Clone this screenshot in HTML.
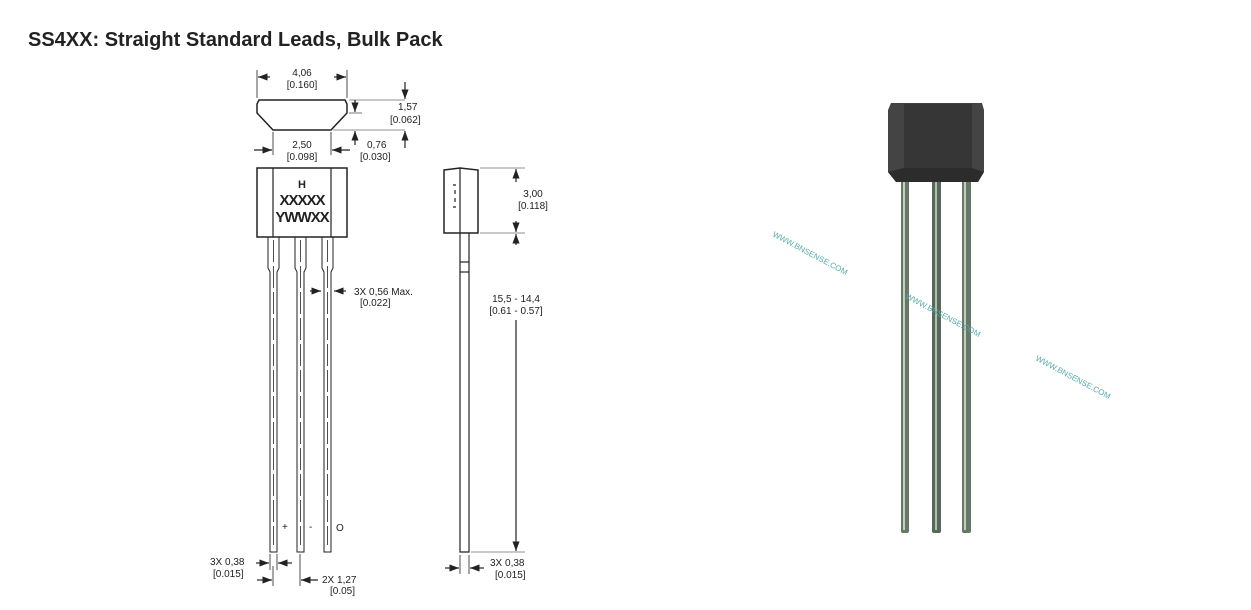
<!DOCTYPE html>
<html><head><meta charset="utf-8"><style>
body{margin:0;background:#fff;width:1251px;height:610px;overflow:hidden;position:relative;font-family:"Liberation Sans",sans-serif}
.t{position:absolute;left:28px;top:29px;font-size:20px;font-weight:bold;color:#222;letter-spacing:0px}
svg{position:absolute;left:0;top:0}
svg text{font-family:"Liberation Sans",sans-serif;font-size:10px;fill:#222}
</style></head><body>
<div class="t">SS4XX: Straight Standard Leads, Bulk Pack</div>
<svg width="1251" height="610" viewBox="0 0 1251 610">
<defs><marker id="a" markerWidth="8" markerHeight="6" refX="8" refY="3" orient="auto"><path d="M0,0 L8,3 L0,6z" fill="#222"/></marker></defs>
<g stroke="#222" fill="none" stroke-width="1.2">
<path d="M259,100 L345,100 L347,104 L347,113 L331,130 L273,130 L257,113 L257,104z" fill="#fff" stroke-width="1.5"/>
<line x1="257" y1="70" x2="257" y2="98" stroke-width="0.8"/><line x1="347" y1="70" x2="347" y2="98" stroke-width="0.8"/>
<line x1="270" y1="77" x2="258" y2="77" marker-end="url(#a)"/><line x1="334" y1="77" x2="346" y2="77" marker-end="url(#a)"/>
<line x1="273" y1="132" x2="273" y2="155" stroke-width="0.8"/><line x1="331" y1="132" x2="331" y2="155" stroke-width="0.8"/>
<line x1="254" y1="150" x2="272" y2="150" marker-end="url(#a)"/><line x1="350" y1="150" x2="332" y2="150" marker-end="url(#a)"/>
<line x1="349" y1="100" x2="405" y2="100" stroke-width="0.6"/><line x1="349" y1="113" x2="362" y2="113" stroke-width="0.6"/><line x1="333" y1="130" x2="405" y2="130" stroke-width="0.6"/>
<line x1="405" y1="82" x2="405" y2="99" marker-end="url(#a)"/><line x1="405" y1="148" x2="405" y2="131" marker-end="url(#a)"/>
<line x1="355" y1="100" x2="355" y2="112" marker-end="url(#a)"/><line x1="355" y1="145" x2="355" y2="131" marker-end="url(#a)"/>
<rect x="257" y="168" width="90" height="69" stroke-width="1.5"/>
<line x1="273" y1="168" x2="273" y2="237"/><line x1="331" y1="168" x2="331" y2="237"/>
<g stroke-width="1">
<path d="M268,237 V268 L270,272 V552 H277 V272 L279,268 V237"/>
<path d="M295,237 V268 L297,272 V552 H304 V272 L306,268 V237"/>
<path d="M322,237 V268 L324,272 V552 H331 V272 L333,268 V237"/>
</g>
<g stroke-dasharray="22,4" stroke-width="0.8"><line x1="273.5" y1="240" x2="273.5" y2="545"/><line x1="300.5" y1="240" x2="300.5" y2="545"/><line x1="327.5" y1="240" x2="327.5" y2="545"/></g>
<line x1="310" y1="291" x2="321" y2="291" marker-end="url(#a)"/><line x1="346" y1="291" x2="334" y2="291" marker-end="url(#a)"/>
<line x1="270" y1="554" x2="270" y2="570" stroke-width="0.8"/><line x1="277" y1="554" x2="277" y2="570" stroke-width="0.8"/>
<line x1="256" y1="563" x2="269" y2="563" marker-end="url(#a)"/><line x1="292" y1="563" x2="278" y2="563" marker-end="url(#a)"/>
<line x1="273" y1="566" x2="273" y2="586" stroke-width="0.8"/><line x1="300" y1="554" x2="300" y2="586" stroke-width="0.8"/>
<line x1="257" y1="580" x2="272" y2="580" marker-end="url(#a)"/><line x1="318" y1="580" x2="301" y2="580" marker-end="url(#a)"/>
<path d="M444,170 L460,168 L478,170 L478,233 L444,233z" stroke-width="1.5"/>
<line x1="460" y1="168" x2="460" y2="233"/>
<path d="M460,233 V552 H469 V233"/>
<line x1="460" y1="262" x2="469" y2="262"/><line x1="460" y1="272" x2="469" y2="272"/>
<path d="M453,185 h3 M455,190 v4 M455,198 v4 M453,207 h3"/>
<line x1="480" y1="168" x2="525" y2="168" stroke-width="0.6"/><line x1="480" y1="233" x2="525" y2="233" stroke-width="0.6"/><line x1="471" y1="552" x2="525" y2="552" stroke-width="0.6"/>
<line x1="516" y1="182" x2="516" y2="169" marker-end="url(#a)"/><line x1="516" y1="221" x2="516" y2="232" marker-end="url(#a)"/>
<line x1="516" y1="245" x2="516" y2="234" marker-end="url(#a)"/><line x1="516" y1="320" x2="516" y2="551" marker-end="url(#a)"/>
<line x1="460" y1="555" x2="460" y2="574" stroke-width="0.8"/><line x1="469" y1="555" x2="469" y2="574" stroke-width="0.8"/>
<line x1="445" y1="568" x2="459" y2="568" marker-end="url(#a)"/><line x1="484" y1="568" x2="470" y2="568" marker-end="url(#a)"/>
</g>
<rect x="513" y="185" width="40" height="26" fill="#fff"/><rect x="483" y="290" width="70" height="28" fill="#fff"/>
<text x="302" y="76" text-anchor="middle">4,06</text><text x="302" y="88" text-anchor="middle">[0.160]</text>
<text x="398" y="110">1,57</text><text x="390" y="123">[0.062]</text>
<text x="302" y="148" text-anchor="middle">2,50</text><text x="302" y="160" text-anchor="middle">[0.098]</text>
<text x="367" y="148">0,76</text><text x="360" y="160">[0.030]</text>
<text x="302" y="188" text-anchor="middle" style="font-size:11px;font-weight:bold">H</text>
<text x="302" y="205" text-anchor="middle" style="font-size:15px;font-weight:bold;letter-spacing:-1px">XXXXX</text>
<text x="302" y="222" text-anchor="middle" style="font-size:15px;font-weight:bold;letter-spacing:-1px">YWWXX</text>
<text x="354" y="295">3X 0,56 Max.</text><text x="360" y="306">[0.022]</text>
<text x="282" y="530">+</text><text x="309" y="530">-</text><text x="336" y="531">O</text>
<text x="210" y="565">3X 0,38</text><text x="213" y="577">[0.015]</text>
<text x="322" y="583">2X 1,27</text><text x="330" y="594">[0.05]</text>
<text x="533" y="197" text-anchor="middle">3,00</text><text x="533" y="209" text-anchor="middle">[0.118]</text>
<text x="516" y="302" text-anchor="middle">15,5 - 14,4</text><text x="516" y="314" text-anchor="middle">[0.61 - 0.57]</text>
<text x="490" y="566">3X 0,38</text><text x="495" y="578">[0.015]</text>
<g>
<rect x="901" y="178" width="8" height="355" rx="2" fill="#66786a"/>
<rect x="932" y="178" width="9" height="355" rx="2" fill="#56685a"/>
<rect x="962" y="178" width="9" height="355" rx="2" fill="#66786a"/>
<rect x="903" y="180" width="2" height="350" fill="#c0d0b8"/><rect x="935" y="180" width="2" height="350" fill="#b0c0a8"/><rect x="964" y="180" width="2" height="350" fill="#c0d0b8"/>
<path d="M891,103 L982,103 L984,110 L984,172 L978,182 L896,182 L888,172 L888,110z" fill="#444"/>
<path d="M904,104 L972,104 L972,168 L904,168z" fill="#363636"/>
<path d="M888,172 L904,168 L972,168 L984,172 L978,182 L896,182z" fill="#2c2c2c"/>
</g>
<text x="772" y="236" transform="rotate(28 772 236)" style="fill:#5aa;font-size:8px">WWW.BNSENSE.COM</text>
<text x="905" y="298" transform="rotate(28 905 298)" style="fill:#5aa;font-size:8px">WWW.BNSENSE.COM</text>
<text x="1035" y="360" transform="rotate(28 1035 360)" style="fill:#5aa;font-size:8px">WWW.BNSENSE.COM</text>
</svg>
</body></html>
